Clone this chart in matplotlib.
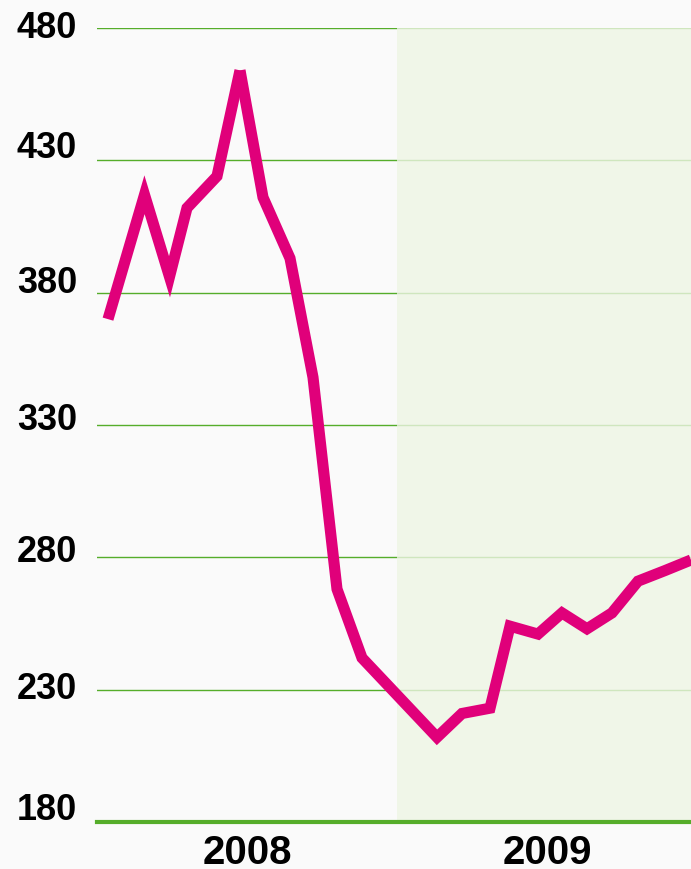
import matplotlib
matplotlib.use("Agg")
import matplotlib.pyplot as plt
from matplotlib.transforms import ScaledTranslation

# Data: x = months since start of 2008, y = value
months = [0.44, 1.9, 2.9, 3.6, 4.8, 5.72, 6.64, 7.72, 8.64, 9.6, 10.6,
          13.6, 14.6, 15.72, 16.52, 17.64, 18.6, 19.6, 20.6, 21.64, 22.72, 23.76]
values = [370, 417, 386, 412, 424, 464, 416, 393, 348, 268, 242,
          212, 221, 223, 254, 251, 259, 253, 259, 271, 275, 279]
year_labels = ["2008", "2009"]
year_centers = [6, 18]
y_ticks = [180, 230, 280, 330, 380, 430, 480]

BG = "#fafafa"
GREEN = "#55ad2a"
PINK = "#e0007a"

fig = plt.figure(figsize=(6.91, 8.69), dpi=100, facecolor=BG)
ax = fig.add_axes([97 / 691, 47 / 869, 594 / 691, 794 / 869], facecolor=BG)

ax.set_xlim(0, 23.76)
ax.set_ylim(180, 480)

# grid
ax.set_axisbelow(True)
ax.set_yticks(y_ticks)
ax.yaxis.grid(True, color=GREEN, linewidth=1.0, zorder=0.5)
ax.xaxis.grid(False)

# shaded 2009 region (semi-transparent over gridlines)
ax.axvspan(12, 23.76, color=(238 / 255, 245 / 255, 228 / 255), alpha=0.8,
           zorder=1, linewidth=0)

# line split at the highest point so the sharp peak gets a bevelled top
k = values.index(max(values))
line_kw = dict(color=PINK, linewidth=8, solid_joinstyle="miter",
               solid_capstyle="butt", zorder=3)
ax.plot(months[:k + 1], values[:k + 1], **line_kw)
ax.plot(months[k:], values[k:], **line_kw)

for s in ["top", "left", "right"]:
    ax.spines[s].set_visible(False)
ax.spines["bottom"].set_color(GREEN)
ax.spines["bottom"].set_linewidth(3.0)
ax.spines["bottom"].set_zorder(4)

ax.set_xticks(year_centers)
ax.set_xticklabels(year_labels)
ax.tick_params(axis="x", length=0, pad=9, labelsize=29)
ax.tick_params(axis="y", length=0, pad=14.4, labelsize=26)

for lab in ax.get_xticklabels() + ax.get_yticklabels():
    lab.set_fontfamily("Liberation Sans")
    lab.set_fontweight("bold")
    lab.set_color("black")

offsets_px = {180: 12, 230: 0, 280: 5, 330: 4, 380: 9, 430: 12, 480: 0}
for lab, val in zip(ax.get_yticklabels(), y_ticks):
    lab.set_verticalalignment("center")
    lab.set_transform(lab.get_transform() +
                      ScaledTranslation(0, offsets_px[val] / 100, fig.dpi_scale_trans))

fig.savefig("out.png", dpi=100, facecolor=BG)
